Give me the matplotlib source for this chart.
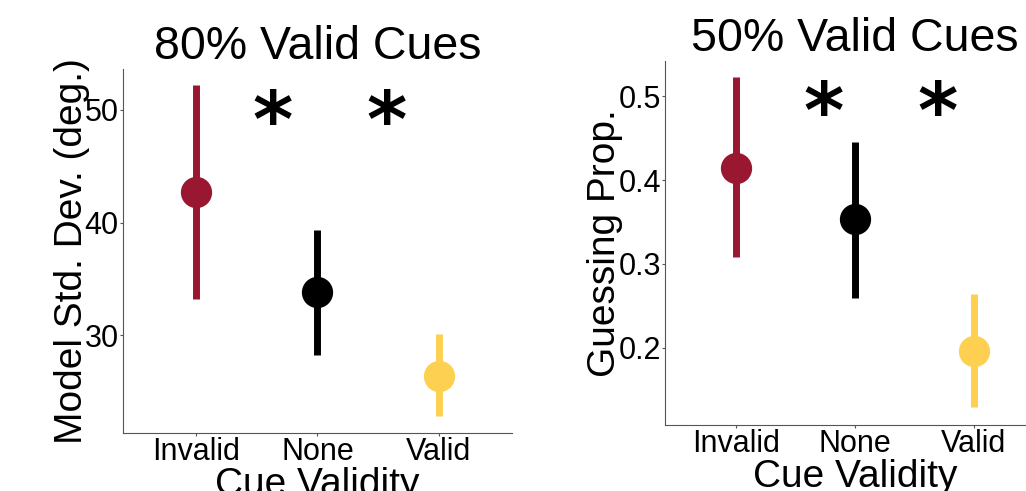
import matplotlib.pyplot as plt

plt.rcParams['font.family'] = ['Liberation Sans', 'DejaVu Sans']

conditions = ['Invalid', 'None', 'Valid']
colors = ['#991730', '#000000', '#FDD052']

# 80% valid cues: model std. dev. (deg.)
sd_mean = [42.7, 33.8, 26.4]
sd_low = [33.2, 28.2, 22.8]
sd_high = [52.2, 39.3, 30.1]
sd_stars_x = [1.63, 2.57]
sd_stars_y = 46.8

# 50% valid cues: guessing proportion
guess_mean = [0.415, 0.354, 0.196]
guess_low = [0.308, 0.259, 0.129]
guess_high = [0.523, 0.446, 0.264]
guess_stars_x = [1.74, 2.70]
guess_stars_y = 0.451


def panel(ax, mean, low, high, title, ylabel, ylim, yticks, ytlabels,
          stars_x, stars_y, label_x):
    xs = [1, 2, 3]
    for x, m, lo, hi, c in zip(xs, mean, low, high, colors):
        ax.vlines(x, lo, hi, color=c, linewidth=5)
        ax.plot(x, m, 'o', color=c, markersize=21.5)
    # significance stars
    for sx in stars_x:
        ax.text(sx, stars_y, '*', fontsize=55.5, fontweight='bold',
                family='DejaVu Sans', ha='center', va='baseline')
    ax.set_xlim(0.4, 3.6)
    ax.set_ylim(*ylim)
    ax.set_xticks(xs)
    ax.set_xticklabels(conditions)
    ax.set_yticks(yticks)
    ax.set_yticklabels(ytlabels)
    ax.tick_params(labelsize=22, length=2, color='#555555', pad=1)
    for s in ['top', 'right']:
        ax.spines[s].set_visible(False)
    for s in ['left', 'bottom']:
        ax.spines[s].set_color('#555555')
        ax.spines[s].set_linewidth(0.8)
    ax.set_title(title, fontsize=33.5, pad=3)
    ax.set_xlabel('Cue Validity', fontsize=28, labelpad=0)
    ax.set_ylabel(ylabel, fontsize=28)
    ax.yaxis.set_label_coords(label_x, 0.5)


fig = plt.figure(figsize=(10.26, 4.91), dpi=100)
ax1 = fig.add_axes([0.1199, 0.1181, 0.379, 0.7414])
ax2 = fig.add_axes([0.6481, 0.1344, 0.3704, 0.7414])

panel(ax1, sd_mean, sd_low, sd_high, '80% Valid Cues', 'Model Std. Dev. (deg.)',
      (21.3, 53.64), [30, 40, 50], ['30', '40', '50'], sd_stars_x, sd_stars_y, -0.085)
panel(ax2, guess_mean, guess_low, guess_high, '50% Valid Cues', 'Guessing Prop.',
      (0.108, 0.542), [0.2, 0.3, 0.4, 0.5], ['0.2', '0.3', '0.4', '0.5'],
      guess_stars_x, guess_stars_y, -0.11)

fig.savefig('out.png', dpi=100)
